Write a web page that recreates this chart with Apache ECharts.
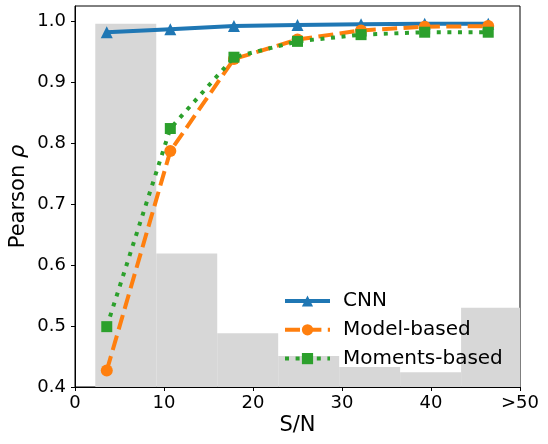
<!DOCTYPE html>
<html>
<head>
<meta charset="utf-8">
<script src="https://cdn.jsdelivr.net/npm/echarts@6/dist/echarts.min.js"></script>
<style>
	html, body { margin: 0; padding: 0; background: #fff; }
	#chart { width: 548px; height: 444px; }
</style>
</head>
<body>
<div id="chart"></div>
<script>
// S/N bin centres where the correlation was measured
const snPoints = [3.57, 10.71, 17.86, 25.0, 32.14, 39.29, 46.43]
const cnn = [0.982, 0.987, 0.992, 0.994, 0.995, 0.996, 0.996]
const modelBased = [0.427, 0.787, 0.938, 0.970, 0.985, 0.991, 0.992]
const momentsBased = [0.499, 0.824, 0.941, 0.967, 0.978, 0.982, 0.982]

// background histogram (bin edges and bar tops, in Pearson units)
const histEdges = [2.28, 9.13, 15.98, 22.83, 29.68, 36.53, 43.38, 50.0]
const histTops = [0.996, 0.619, 0.488, 0.451, 0.433, 0.424, 0.530]

const xTicks = [0, 10, 20, 30, 40, 50]
const yTicks = [0.4, 0.5, 0.6, 0.7, 0.8, 0.9, 1.0]

const Y_MIN = 0.4
const Y_MAX = 1.025
const FONT = 'DejaVu Sans'

const DASHED = [15, 6.4]
const DOTTED = [4, 6.6]

const toPairs = (ys) => snPoints.map((x, i) => [x, ys[i]])
const histData = histTops.map((h, i) => [histEdges[i], histEdges[i + 1], h])

const chart = echarts.init(document.getElementById('chart'))

chart.setOption({
	animation: false,
	textStyle: { fontFamily: FONT, color: '#000' },
	grid: {
		left: 75,
		right: 28,
		top: 6,
		bottom: 57,
		containLabel: false,
		outerBoundsMode: 'none',
		show: true,
		borderColor: '#000',
		borderWidth: 1,
		backgroundColor: 'transparent'
	},
	legend: {
		orient: 'vertical',
		left: 283,
		top: 291,
		padding: 0,
		itemWidth: 45,
		itemHeight: 14,
		itemGap: 8.8,
		data: [
			{ name: 'CNN', lineStyle: { width: 4 } },
			{ name: 'Model-based', lineStyle: { width: 4, type: DASHED } },
			{ name: 'Moments-based', lineStyle: { width: 4, type: DOTTED } }
		],
		lineStyle: { width: 4 },
		textStyle: {
			fontFamily: FONT,
			fontSize: 20,
			color: '#000',
			lineHeight: 20,
			padding: [0, 0, 0, 8]
		}
	},
	xAxis: {
		type: 'value',
		min: 0,
		max: 50,
		interval: 10,
		name: 'S/N',
		nameLocation: 'middle',
		nameGap: 28,
		nameMoveOverlap: false,
		nameTextStyle: { fontFamily: FONT, fontSize: 21, color: '#000' },
		axisLine: { show: true, lineStyle: { color: '#000', width: 1 } },
		axisTick: { show: true, length: 4, lineStyle: { color: '#000' }, customValues: xTicks },
		axisLabel: {
			fontFamily: FONT,
			fontSize: 18,
			color: '#000',
			margin: 7,
			customValues: xTicks,
			formatter: (v) => (v === 50 ? '>50' : String(v))
		},
		splitLine: { show: false }
	},
	yAxis: {
		type: 'value',
		min: Y_MIN,
		max: Y_MAX,
		interval: 0.1,
		name: 'Pearson {i|ρ}',
		nameLocation: 'middle',
		nameGap: 46,
		nameMoveOverlap: false,
		nameTextStyle: {
			fontFamily: FONT,
			fontSize: 21,
			color: '#000',
			rich: { i: { fontFamily: FONT, fontSize: 21, fontStyle: 'italic', color: '#000' } }
		},
		axisLine: { show: true, lineStyle: { color: '#000', width: 1 } },
		axisTick: { show: true, length: 4, lineStyle: { color: '#000' }, customValues: yTicks },
		axisLabel: {
			fontFamily: FONT,
			fontSize: 18,
			color: '#000',
			margin: 9,
			customValues: yTicks,
			formatter: (v) => v.toFixed(1)
		},
		splitLine: { show: false }
	},
	series: [
		{
			name: 'hist',
			type: 'custom',
			z: 1,
			clip: true,
			silent: true,
			data: histData,
			renderItem(params, api) {
				const topLeft = api.coord([api.value(0), api.value(2)])
				const bottomRight = api.coord([api.value(1), Y_MIN])
				return {
					type: 'rect',
					shape: {
						x: topLeft[0],
						y: topLeft[1],
						width: bottomRight[0] - topLeft[0],
						height: bottomRight[1] - topLeft[1]
					},
					style: { fill: '#d7d7d7' }
				}
			}
		},
		{
			name: 'CNN',
			type: 'line',
			z: 3,
			data: toPairs(cnn),
			symbol: 'triangle',
			symbolSize: 12,
			itemStyle: { color: '#1f77b4' },
			lineStyle: { color: '#1f77b4', width: 4 }
		},
		{
			name: 'Model-based',
			type: 'line',
			z: 4,
			data: toPairs(modelBased),
			symbol: 'circle',
			symbolSize: 12,
			itemStyle: { color: '#ff7f0e' },
			lineStyle: { color: '#ff7f0e', width: 4, type: DASHED }
		},
		{
			name: 'Moments-based',
			type: 'line',
			z: 5,
			data: toPairs(momentsBased),
			symbol: 'rect',
			symbolSize: 11,
			itemStyle: { color: '#2ca02c' },
			lineStyle: { color: '#2ca02c', width: 4, type: DOTTED }
		}
	]
})
</script>
</body>
</html>
